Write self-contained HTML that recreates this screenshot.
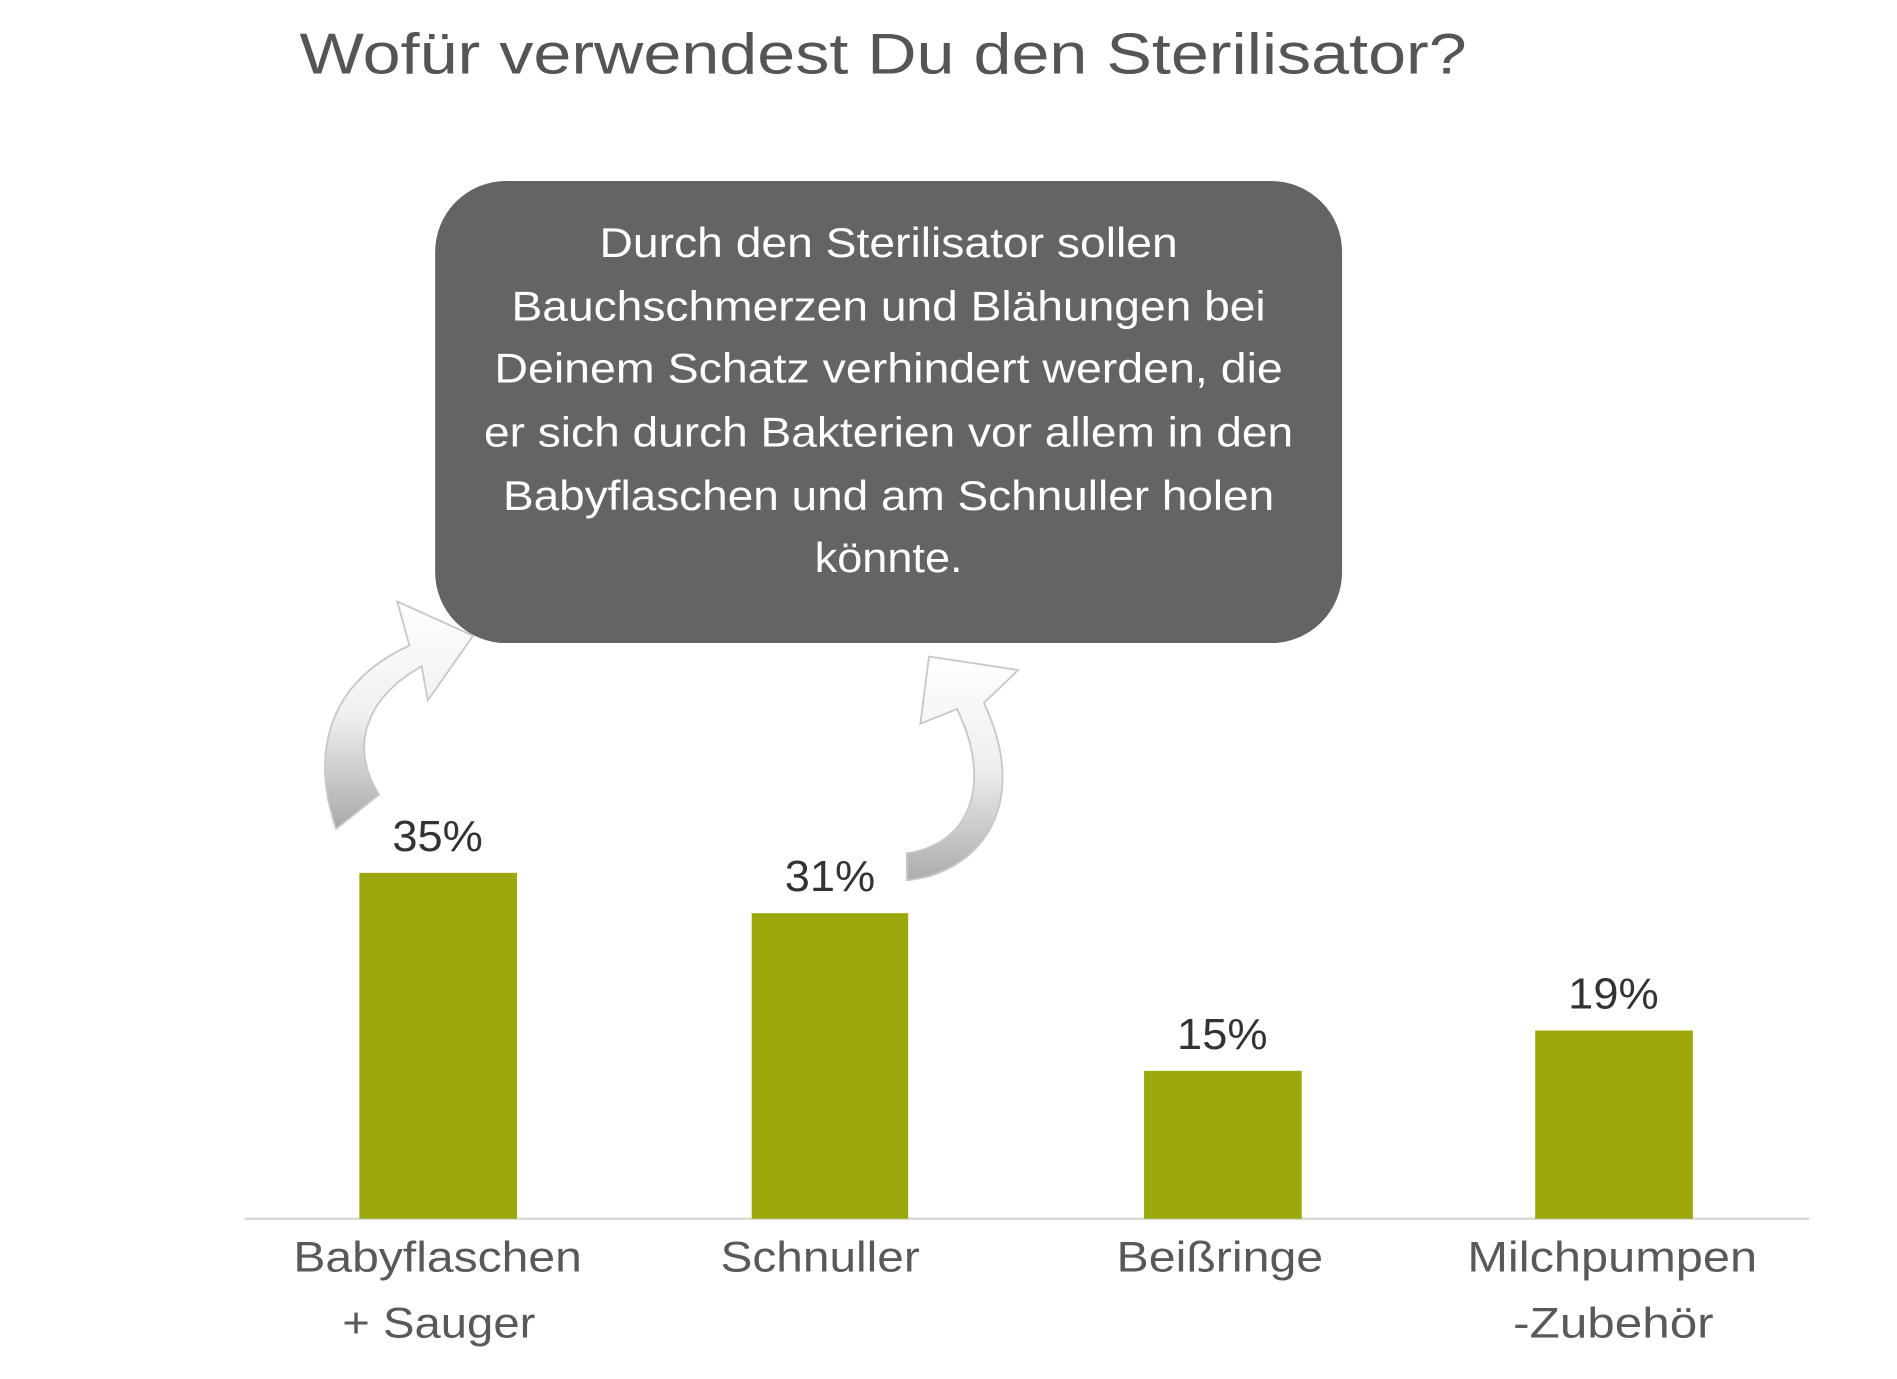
<!DOCTYPE html>
<html><head><meta charset="utf-8"><style>html,body{margin:0;padding:0;background:#fff}svg{display:block}</style></head>
<body>
<svg width="1897" height="1379" viewBox="0 0 1552 1128" xmlns="http://www.w3.org/2000/svg" font-family="Liberation Sans, sans-serif">
<defs>
<linearGradient id="g1" x1="0" y1="0" x2="0" y2="1">
<stop offset="0" stop-color="#ffffff"/><stop offset="0.5" stop-color="#f0f0f0"/><stop offset="1" stop-color="#a8a8a8"/>
</linearGradient>
<linearGradient id="g2" x1="0" y1="0" x2="0" y2="1">
<stop offset="0" stop-color="#ffffff"/><stop offset="0.5" stop-color="#eeeeee"/><stop offset="1" stop-color="#acacac"/>
</linearGradient>
</defs>
<text x="245" y="60" font-size="47" fill="#555" textLength="955" lengthAdjust="spacingAndGlyphs">Wofür verwendest Du den Sterilisator?</text>
<rect x="356" y="148" width="742" height="378" rx="58" fill="#646464"/>
<g font-size="34" fill="#fff" text-anchor="middle" lengthAdjust="spacingAndGlyphs">
<text x="727" y="210" textLength="473" lengthAdjust="spacingAndGlyphs">Durch den Sterilisator sollen</text>
<text x="727" y="262" textLength="617" lengthAdjust="spacingAndGlyphs">Bauchschmerzen und Blähungen bei</text>
<text x="727" y="313" textLength="645" lengthAdjust="spacingAndGlyphs">Deinem Schatz verhindert werden, die</text>
<text x="727" y="365" textLength="662" lengthAdjust="spacingAndGlyphs">er sich durch Bakterien vor allem in den</text>
<text x="727" y="417" textLength="631" lengthAdjust="spacingAndGlyphs">Babyflaschen und am Schnuller holen</text>
<text x="727" y="468" textLength="121" lengthAdjust="spacingAndGlyphs">könnte.</text>
</g>
<path d="M275 678 C255 620,265 560,335 528 L325 492 L387 520 L350 573 L345 545 C300 570,285 610,310 650 Z" fill="url(#g1)" stroke="#c8c8c8" stroke-width="1.5"/>
<path d="M742 720 C800 715,845 660,805 575 L833 548 L760 537 L753 592 L783 580 C812 640,795 690,742 698 Z" fill="url(#g2)" stroke="#c8c8c8" stroke-width="1.5"/>
<line x1="200" y1="997" x2="1480" y2="997" stroke="#d9d9d9" stroke-width="2"/>
<g fill="#9ca70b">
<rect x="294" y="714" width="129" height="283"/>
<rect x="615" y="747" width="128" height="250"/>
<rect x="936" y="876" width="129" height="121"/>
<rect x="1256" y="843" width="129" height="154"/>
</g>
<g font-size="36" fill="#333" text-anchor="middle">
<text x="358" y="696" textLength="74" lengthAdjust="spacingAndGlyphs">35%</text>
<text x="679" y="729" textLength="74" lengthAdjust="spacingAndGlyphs">31%</text>
<text x="1000" y="858" textLength="74" lengthAdjust="spacingAndGlyphs">15%</text>
<text x="1320" y="825" textLength="74" lengthAdjust="spacingAndGlyphs">19%</text>
</g>
<g font-size="35" fill="#595959" text-anchor="middle">
<text x="358" y="1040" textLength="236" lengthAdjust="spacingAndGlyphs">Babyflaschen</text>
<text x="359" y="1094" textLength="158" lengthAdjust="spacingAndGlyphs">+ Sauger</text>
<text x="671" y="1040" textLength="163" lengthAdjust="spacingAndGlyphs">Schnuller</text>
<text x="998" y="1040" textLength="169" lengthAdjust="spacingAndGlyphs">Beißringe</text>
<text x="1319" y="1040" textLength="237" lengthAdjust="spacingAndGlyphs">Milchpumpen</text>
<text x="1320" y="1094" textLength="164" lengthAdjust="spacingAndGlyphs">-Zubehör</text>
</g>
</svg>
</body></html>
